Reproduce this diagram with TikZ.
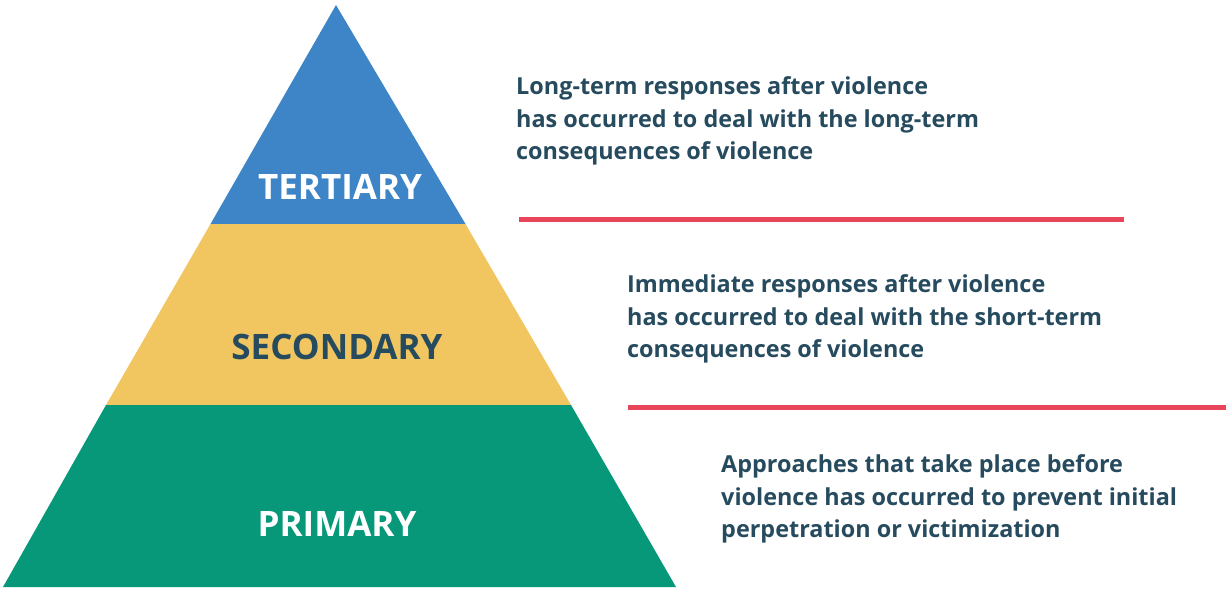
\documentclass[tikz,border=0pt]{standalone}
\usepackage{fontspec}
\setmainfont{Open Sans}
\definecolor{tertblue}{HTML}{3D85C6}
\definecolor{secyellow}{HTML}{F1C661}
\definecolor{primgreen}{HTML}{07987A}
\definecolor{divred}{HTML}{E9455A}
\definecolor{textdark}{HTML}{264A5E}

\begin{document}
\begin{tikzpicture}[x=1pt,y=-1pt]
  \tikzstyle{level}=[font=\fontsize{35}{38}\selectfont\bfseries]
  \tikzstyle{desc}=[font=\fontsize{23.4}{32.7}\selectfont\bfseries,text=textdark,align=left,anchor=west,inner sep=0pt]
  \tikzstyle{divider}=[draw=divred,line width=5pt]

\useasboundingbox (0,0) rectangle (1226,589);

% pyramid corners
\coordinate (apex) at (336,5);
\coordinate (tl) at (210.5,224);
\coordinate (tr) at (465.5,224);
\coordinate (sl) at (106,405);
\coordinate (sr) at (571,405);
\coordinate (bl) at (3,587);
\coordinate (br) at (676,587);

\fill [tertblue] (apex) -- (tr) -- (tl) -- cycle;
\fill [secyellow] (tl) -- (tr) -- (sr) -- (sl) -- cycle;
\fill [primgreen] (sl) -- (sr) -- (br) -- (bl) -- cycle;

\node [level,text=white] (tert) at (340,187) {TERTIARY};
\node [level,text=textdark] (sec) at (337,347) {SECONDARY};
\node [level,text=white] (prim) at (337,524) {PRIMARY};

% descriptions
\node [desc] (tdesc) at (516,121) {Long-term responses after violence\\has occurred to deal with the long-term\\consequences of violence};
\node [desc] (sdesc) at (627,319) {Immediate responses after violence\\has occurred to deal with the short-term\\consequences of violence};
\node [desc] (pdesc) at (721,499) {Approaches that take place before\\violence has occurred to prevent initial\\perpetration or victimization};

% dividers
\coordinate (d1a) at (519,219);
\coordinate (d1b) at (1124,219);
\coordinate (d2a) at (628,407);
\coordinate (d2b) at (1226,407);
\draw [divider] (d1a) -- (d1b);
\draw [divider] (d2a) -- (d2b);
\end{tikzpicture}
\end{document}
